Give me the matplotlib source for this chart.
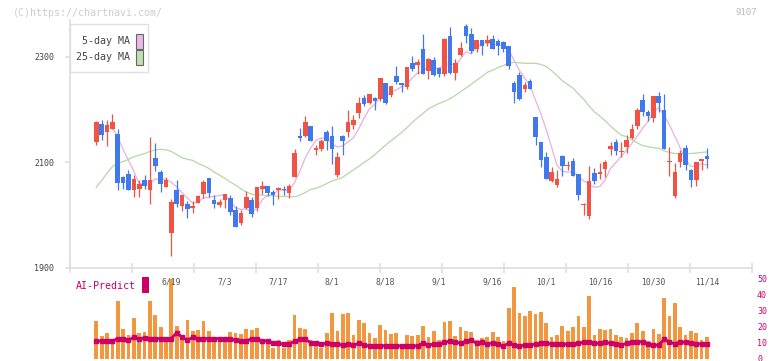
import numpy as np
import pandas as pd
import matplotlib
matplotlib.use('Agg')
import matplotlib.pyplot as plt
from matplotlib.patches import Rectangle
from matplotlib.transforms import blended_transform_factory

plt.rcParams['font.family'] = ['DejaVu Sans Mono']

W, H = 772, 361
nan = np.nan

# daily candles (index 0 = first visible day, 115 = 11/14)
opens = [2155, 2139, 2173, 2158, 2164, 2154, 2072, 2078, 2047, 2050,
         2066, 2048, 2108, 2082, 2054, 1967, 2048, 2018, 2021, 2014,
         2024, 2041, 2071, 2029, 2019, 2028, 2033, 2010, 1986, 2014,
         2029, 2014, 2050, 2055, 2045, 2047, 2050, 2043, 2073, 2150,
         2150, 2169, 2124, 2126, 2158, 2150, 2076, 2150, 2157, 2172,
         2194, 2222, 2213, 2222, 2221, 2251, 2228, 2264, 2251, 2244,
         2289, 2284, 2315, 2273, 2294, 2279, 2268, 2340, 2270, 2304,
         2358, 2344, 2316, 2332, 2327, 2334, 2330, 2328, 2321, 2251,
         2266, 2240, 2255, 2186, 2139, 2110, 2064, 2058, 2112, 2093,
         2103, 2078, 2019, 1999, 2080, 2078, 2088, 2126, 2139, 2119,
         2130, 2147, 2170, 2219, 2196, 2185, 2226, 2200, 2100, 2037,
         2101, 2128, 2086, 2066, 2102, 2112]
highs = [2156, 2179, 2181, 2181, 2192, 2163, 2074, 2086, 2076, 2067,
         2076, 2148, 2137, 2086, 2072, 2031, 2066, 2038, 2027, 2027,
         2038, 2066, 2071, 2038, 2030, 2040, 2038, 2018, 2010, 2046,
         2035, 2053, 2065, 2055, 2047, 2054, 2055, 2059, 2126, 2165,
         2188, 2169, 2133, 2145, 2162, 2169, 2119, 2152, 2200, 2190,
         2225, 2228, 2230, 2225, 2260, 2251, 2245, 2283, 2251, 2281,
         2302, 2296, 2344, 2298, 2300, 2281, 2336, 2357, 2296, 2328,
         2362, 2355, 2332, 2332, 2342, 2342, 2334, 2331, 2321, 2255,
         2272, 2253, 2258, 2186, 2139, 2120, 2091, 2086, 2114, 2103,
         2109, 2078, 2023, 2093, 2090, 2099, 2105, 2138, 2145, 2139,
         2152, 2173, 2203, 2230, 2200, 2226, 2234, 2229, 2129, 2099,
         2124, 2133, 2088, 2101, 2107, 2128]
lows = [2155, 2133, 2143, 2132, 2163, 2047, 2050, 2047, 2035, 2035,
        2050, 2022, 2083, 2044, 2053, 1923, 2015, 2009, 1995, 2005,
        2023, 2033, 2035, 2014, 2016, 2014, 2000, 1977, 1982, 2012,
        1997, 2009, 2040, 2037, 2019, 2031, 2038, 2033, 2072, 2141,
        2148, 2141, 2114, 2121, 2124, 2097, 2072, 2115, 2149, 2163,
        2185, 2207, 2211, 2199, 2217, 2210, 2224, 2248, 2234, 2240,
        2273, 2268, 2267, 2258, 2264, 2262, 2264, 2268, 2256, 2302,
        2327, 2308, 2309, 2304, 2321, 2315, 2304, 2310, 2278, 2213,
        2219, 2234, 2239, 2134, 2092, 2069, 2063, 2054, 2075, 2086,
        2075, 2029, 2000, 1993, 2059, 2069, 2073, 2114, 2114, 2110,
        2118, 2145, 2164, 2188, 2179, 2176, 2195, 2125, 2075, 2033,
        2092, 2085, 2054, 2056, 2086, 2090]
closes = [2156, 2177, 2153, 2171, 2176, 2062, 2062, 2048, 2069, 2060,
          2055, 2067, 2094, 2060, 2067, 2025, 2022, 2038, 2011, 2017,
          2036, 2063, 2042, 2021, 2026, 2040, 2006, 1978, 2004, 2035,
          2002, 2053, 2056, 2043, 2038, 2052, 2047, 2055, 2118, 2146,
          2177, 2141, 2128, 2141, 2141, 2126, 2110, 2141, 2177, 2181,
          2212, 2210, 2230, 2217, 2260, 2213, 2245, 2253, 2247, 2281,
          2277, 2291, 2268, 2296, 2266, 2268, 2334, 2270, 2289, 2318,
          2340, 2312, 2332, 2321, 2333, 2316, 2320, 2316, 2282, 2234,
          2220, 2247, 2240, 2149, 2105, 2069, 2082, 2069, 2093, 2095,
          2075, 2039, 2021, 2065, 2065, 2082, 2101, 2131, 2121, 2122,
          2143, 2164, 2200, 2195, 2189, 2226, 2212, 2126, 2103, 2082,
          2118, 2096, 2066, 2101, 2107, 2107]

# 25-day moving average as drawn (uses days before the window)
ma25 = [nan, 2053, 2066, 2080, 2092, 2099, 2102, 2106, 2111, 2114,
        2117, 2121, 2124, 2125, 2124, 2121, 2115, 2109, 2106, 2104,
        2098, 2094, 2089, 2082, 2076, 2070, 2063, 2057, 2050, 2044,
        2040, 2039, 2038, 2037, 2037, 2036, 2036, 2035, 2035, 2038,
        2043, 2049, 2051, 2055, 2060, 2065, 2068, 2072, 2079, 2086,
        2093, 2100, 2107, 2115, 2124, 2133, 2141, 2149, 2157, 2166,
        2176, 2185, 2193, 2202, 2207, 2212, 2216, 2221, 2227, 2234,
        2241, 2248, 2256, 2263, 2271, 2275, 2280, 2284, 2288, 2290,
        2289, 2288, 2288, 2288, 2286, 2282, 2274, 2265, 2255, 2248,
        2241, 2230, 2220, 2207, 2196, 2188, 2179, 2169, 2160, 2152,
        2149, 2143, 2137, 2132, 2130, 2128, 2127, 2122, 2119, 2117,
        2117, 2117, 2117, 2118, 2119, 2120]

volume = [nan, 23.4, 14.1, 15.9, 10.9, 35.9, 18.4, 14.7, 25.3, 15.9,
          16.6, 35.9, 27.2, 19.7, 12.2, 49.7, 20.3, 11.6, 24.1, 17.4,
          17.8, 23.4, 17.2, 11.6, 11.6, 13.6, 16.6, 16.2, 15.3, 18.4,
          17.8, 19.1, 11.6, 9.5, 6.6, 11.6, 6.6, 11.6, 27.2, 19.1,
          18.4, 11.6, 10.9, 6.6, 15.9, 28.4, 17.2, 27.8, 28.4, 14.7,
          24.1, 22.4, 15.9, 12.8, 20.9, 17.8, 15.3, 15.9, 8.4, 14.7,
          14.1, 14.7, 20.3, 13.4, 17.2, 11.6, 22.8, 23.4, 14.1, 19.7,
          17.2, 16.6, 11.6, 12.8, 13.4, 16.6, 13.4, 10.9, 31.6, 44.7,
          28.4, 26.6, 29.7, 27.8, 29.1, 22.2, 13.4, 14.7, 20.3, 17.2,
          19.7, 26.6, 19.7, 39.1, 14.7, 18.4, 17.8, 18.4, 14.5, 13.4,
          12.8, 15.9, 22.2, 17.2, 10.9, 18.4, 15.3, 37.8, 26.6, 34.7,
          19.7, 14.7, 17.2, 15.9, 11.6, 13.4]

ai_pred = [nan, 10.9, 10.9, 10.9, 10.9, 12.5, 12.5, 11.6, 13.2, 12.0,
           13.0, 12.5, 12.5, 12.5, 12.5, 12.5, 16.2, 13.2, 11.6, 13.2,
           12.5, 12.5, 12.5, 12.5, 12.5, 12.5, 12.0, 11.6, 10.9, 11.2,
           12.2, 12.0, 11.1, 10.9, 9.9, 9.5, 8.9, 9.1, 10.9, 12.0,
           12.0, 9.9, 9.5, 9.1, 9.5, 9.1, 8.9, 8.4, 9.1, 8.4,
           9.5, 8.4, 7.8, 8.0, 8.0, 8.0, 8.0, 8.0, 7.8, 7.8,
           8.0, 7.8, 9.9, 8.3, 9.1, 9.1, 10.1, 10.8, 10.3, 9.7,
           10.8, 11.4, 9.5, 10.1, 9.1, 9.7, 9.1, 7.8, 9.7, 8.3,
           7.8, 8.3, 8.3, 9.1, 9.7, 9.7, 8.9, 8.9, 8.9, 8.9,
           8.9, 9.5, 10.1, 10.3, 9.5, 9.5, 10.1, 9.5, 9.1, 8.4,
           9.5, 10.5, 10.5, 10.5, 9.1, 8.4, 8.4, 12.0, 10.5, 9.1,
           10.5, 10.1, 9.5, 9.1, 9.1, 9.1]

date_labels = ['6/19', '7/3', '7/17', '8/1', '8/18', '9/1', '9/16',
               '10/1', '10/16', '10/30', '11/14']
date_index = [15, 25, 35, 45, 55, 65, 75, 85, 95, 105, 115]

price_ticks = [1900, 2100, 2300]
vol_ticks = [0, 10, 20, 30, 40, 50]

RED = '#f05343'
BLUE = '#4079ee'
GRID = '#dddddd'
CRIMSON = '#cc0066'

o = np.array(opens, float)
c = np.array(closes, float)
hi = np.array(highs, float)
lo = np.array(lows, float)
idx = np.arange(len(o))
ma5 = pd.Series(c).rolling(5).mean()

fig = plt.figure(figsize=(W / 100, H / 100), dpi=100)

def fx(px):
    return px / W

def fy(py):
    return 1 - py / H

# pixel layout: candle 0 at x=91, 5.356 px per day
x0 = -(91 - 70) / 5.356
x1 = (752 - 91) / 5.356

ax = fig.add_axes([fx(70), fy(268), fx(752) - fx(70), fy(20) - fy(268)])
ax2 = fig.add_axes([fx(70), fy(358.5), fx(752) - fx(70), fy(268) - fy(358.5)])

# candles
up = c >= o
cols = np.where(up, RED, BLUE)
ax.vlines(idx, lo, hi, colors=cols, lw=0.9, zorder=3)
body_lo = np.minimum(o, c)
body_h = np.maximum(np.abs(c - o), 1.6)
ax.bar(idx, body_h, bottom=body_lo, width=0.86, color=cols, lw=0, zorder=4)

ax.plot(idx, ma5, color='#e6b0e6', lw=0.9, zorder=2)
ax.plot(idx, ma25, color='#b3d9a4', lw=0.9, zorder=2)

ax.set_xlim(x0, x1)
ax.set_ylim(1900, 2300 + (57 - 20) * 200 / 105.5)
ax.set_xticks(np.linspace(x0, x1, 12))
ax.set_xticklabels([])
ax.set_yticks(price_ticks)
ax.set_yticklabels([str(t) for t in price_ticks])
ax.tick_params(axis='x', direction='inout', length=7, width=1.1, color=GRID)
ax.tick_params(axis='y', direction='out', length=3.8, width=1.1, color=GRID,
               labelsize=6, labelcolor='#444444', pad=7.5)
for s in ['top', 'right']:
    ax.spines[s].set_visible(False)
for s in ['left', 'bottom']:
    ax.spines[s].set_color(GRID)
    ax.spines[s].set_linewidth(1.2)

# volume / AI panel
ax2.bar(idx, volume, width=0.7, color='#f2973f', lw=0, zorder=2)
ax2.plot(idx, ai_pred, color=CRIMSON, lw=2.0, marker='s', ms=2.2, zorder=3)
ax2.set_xlim(x0, x1)
ax2.set_ylim(0, 90.5 / 1.6)
ax2.set_xticks([])
ax2.yaxis.tick_right()
ax2.set_yticks(vol_ticks)
ax2.set_yticklabels([str(t) for t in vol_ticks])
ax2.tick_params(axis='y', length=0, pad=3.6, labelsize=6, labelcolor=CRIMSON)
for s in ax2.spines.values():
    s.set_visible(False)
ax2.patch.set_alpha(0)

tr = blended_transform_factory(ax2.transData, ax2.transAxes)
for i, lab in zip(date_index, date_labels):
    ax2.text(i, (358.5 - 282) / 90.5, lab, transform=tr, ha='center', va='center',
             fontsize=5.8, color='#555555', zorder=5)

# watermark and code
fig.text(fx(13), fy(12.5), '(C)https://chartnavi.com/', fontsize=7.2,
         color='#cccccc', ha='left', va='center')
fig.text(fx(757), fy(12.5), '9107', fontsize=6.5, color='#bbbbbb',
         ha='right', va='center')

# legend box
fig.patches.append(Rectangle((fx(70), fy(71.7)), fx(148.3) - fx(70), fy(24) - fy(71.7),
                             transform=fig.transFigure, facecolor='white',
                             edgecolor='#e0e0e0', lw=1.0, zorder=10))
legend_items = [('5-day MA', '#eab8ea', 41), ('25-day MA', '#bfe0b0', 57)]
for lab, col, yy in legend_items:
    fig.text(fx(129.5), fy(yy), lab, fontsize=7.2, color='#444444',
             ha='right', va='center', zorder=11)
    fig.patches.append(Rectangle((fx(136.3), fy(yy + 7.5)), fx(142.7) - fx(136.3),
                                 fy(yy - 7.5) - fy(yy + 7.5),
                                 transform=fig.transFigure, facecolor=col,
                                 edgecolor='#666666', lw=0.8, zorder=11))

# AI-Predict label
fig.text(fx(75.5), fy(286), 'AI-Predict', fontsize=7.2, color=CRIMSON,
         ha='left', va='center')
fig.patches.append(Rectangle((fx(142), fy(292.7)), fx(148.7) - fx(142), fy(276.7) - fy(292.7),
                             transform=fig.transFigure, facecolor=CRIMSON, lw=0))

fig.savefig('out.png', dpi=100)
